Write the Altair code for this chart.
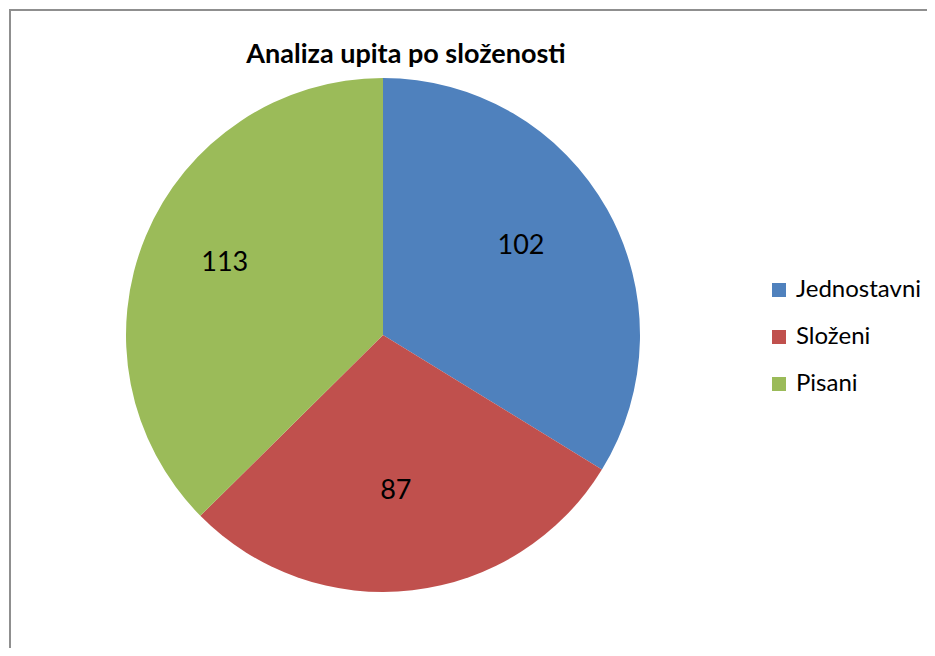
import altair as alt
import pandas as pd

categories = ["Jednostavni", "Složeni", "Pisani"]
values = [102, 87, 113]
colors = ["#4F81BD", "#C0504D", "#9BBB59"]
title_text = "Analiza upita po složenosti"

df = pd.DataFrame({"kategorija": categories, "broj": values, "redoslijed": [0, 1, 2]})

CX, CY, R = 375, 327, 257
FONT = "Lato"

base = alt.Chart(df).encode(
    theta=alt.Theta("broj:Q", stack=True),
    order=alt.Order("redoslijed:Q"),
)

pie = base.mark_arc(outerRadius=R).encode(
    color=alt.Color(
        "kategorija:N",
        scale=alt.Scale(domain=categories, range=colors),
        sort=categories,
        legend=alt.Legend(
            title=None,
            orient="none",
            legendX=759,
            legendY=270,
            symbolType="square",
            symbolSize=196,
            symbolStrokeWidth=0,
            labelFont=FONT,
            labelFontSize=24,
            labelColor="black",
            labelOffset=5,
            rowPadding=23,
            padding=0,
        ),
    ),
    x=alt.value(CX),
    y=alt.value(CY),
)

labels = base.mark_text(radius=165, font=FONT, fontSize=27, color="black", dx=-6, dy=-8).encode(
    text="broj:Q",
    x=alt.value(CX),
    y=alt.value(CY),
)

title = alt.Chart(pd.DataFrame({"naslov": [title_text]})).mark_text(
    font=FONT, fontSize=27, fontWeight="bold", color="black", baseline="alphabetic"
).encode(text="naslov:N", x=alt.value(398), y=alt.value(55))

frame = pd.DataFrame({"a": [0]})
top_line = alt.Chart(frame).mark_rule(stroke="#8f8f8f", strokeWidth=2).encode(
    x=alt.value(1), x2=alt.value(1000), y=alt.value(2)
)
left_line = alt.Chart(frame).mark_rule(stroke="#8f8f8f", strokeWidth=2).encode(
    x=alt.value(2), y=alt.value(1), y2=alt.value(1000)
)

chart = alt.layer(top_line, left_line, pie, labels, title).properties(
    width=919, height=640, autosize=alt.AutoSizeParams(type="none"), padding=0
).configure_view(stroke=None)

chart.save("out.html", embed_options={"renderer": "svg", "actions": False})
